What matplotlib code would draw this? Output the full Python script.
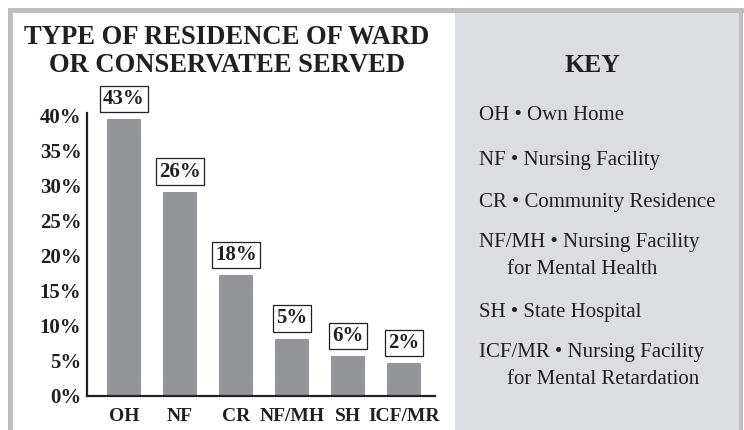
import matplotlib
matplotlib.use("Agg")
import matplotlib.pyplot as plt
from matplotlib.patches import Rectangle

categories = ["OH", "NF", "CR", "NF/MH", "SH", "ICF/MR"]
bar_values = [39.5, 29.1, 17.2, 8.1, 5.6, 4.6]
value_labels = ["43%", "26%", "18%", "5%", "6%", "2%"]
y_ticks = [0, 5, 10, 15, 20, 25, 30, 35, 40]
y_tick_labels = ["0%", "5%", "10%", "15%", "20%", "25%", "30%", "35%", "40%"]
title_lines = ["TYPE OF RESIDENCE OF WARD", "OR CONSERVATEE SERVED"]
key_title = "KEY"
key_entries = [
    ["OH \u2022 Own Home"],
    ["NF \u2022 Nursing Facility"],
    ["CR \u2022 Community Residence"],
    ["NF/MH \u2022 Nursing Facility", "for Mental Health"],
    ["SH \u2022 State Hospital"],
    ["ICF/MR \u2022 Nursing Facility", "for Mental Retardation"],
]

W, H = 744, 430
ink = "#231f20"
border = "#bdbec2"
panel = "#dcdde0"
bar_color = "#949599"
serif = ["Liberation Serif", "DejaVu Serif"]

fig = plt.figure(figsize=(W / 100, H / 100), dpi=100)
fig.patch.set_facecolor("white")


def fx(px):
    return px / W


def fy(py):
    return 1 - py / H


def rect(x0, y0, x1, y1, color):
    fig.patches.append(Rectangle((fx(x0), fy(y1)), fx(x1) - fx(x0), fy(y0) - fy(y1),
                                 transform=fig.transFigure, facecolor=color,
                                 edgecolor="none", zorder=0))


rect(455, 13, 739, 430, panel)
rect(8, 8, 744, 13, border)
rect(8, 8, 13, 430, border)
rect(739, 8, 743, 430, border)

# axes
ax_left, ax_right, ax_bottom, ax_top = 87, 435, 395.5, 113
ax = fig.add_axes([fx(ax_left), fy(ax_bottom), fx(ax_right) - fx(ax_left), fy(ax_top) - fy(ax_bottom)])
ax.set_facecolor("none")
x = list(range(len(categories)))
ax.bar(x, bar_values, width=0.607, color=bar_color, zorder=2)
ax.set_xlim(-0.66, 5.55)
ax.set_ylim(0, 40.4)
for s in ["top", "right"]:
    ax.spines[s].set_visible(False)
for s in ["left", "bottom"]:
    ax.spines[s].set_linewidth(1.6)
    ax.spines[s].set_color(ink)
ax.set_yticks(y_ticks)
ax.set_yticklabels(y_tick_labels, fontfamily=serif, fontweight="bold", fontsize=15, color=ink)
ax.set_xticks(x)
ax.set_xticklabels(categories, fontfamily=serif, fontweight="bold", fontsize=14, color=ink)
ax.tick_params(axis="y", length=0, pad=4)
ax.tick_params(axis="x", length=0, pad=9)

for xi, v, lab in zip(x, bar_values, value_labels):
    ax.annotate(lab, (xi, v), xytext=(0, 7.5), textcoords="offset points",
                ha="center", va="bottom", fontfamily=serif, fontweight="bold",
                fontsize=15, color=ink, annotation_clip=False,
                bbox=dict(boxstyle="square,pad=0.15", facecolor="white",
                          edgecolor=ink, linewidth=0.9))

# title
for i, line in enumerate(title_lines):
    fig.text(fx(227), fy(37 + 28.5 * i), line, ha="center", va="center",
             fontfamily=serif, fontweight="bold", fontsize=19.2, color=ink)

# key
fig.text(fx(592), fy(66), key_title, ha="center", va="center",
         fontfamily=serif, fontweight="bold", fontsize=18.5, color=ink)
entry_y = [115, 160, 202, 243, 313, 353]
for y0, lines in zip(entry_y, key_entries):
    for j, line in enumerate(lines):
        fig.text(fx(479 + (28 if j else 0)), fy(y0 + 27 * j), line, ha="left", va="center",
                 fontfamily=serif, fontsize=15, color=ink)

fig.savefig("out.png", dpi=100)
